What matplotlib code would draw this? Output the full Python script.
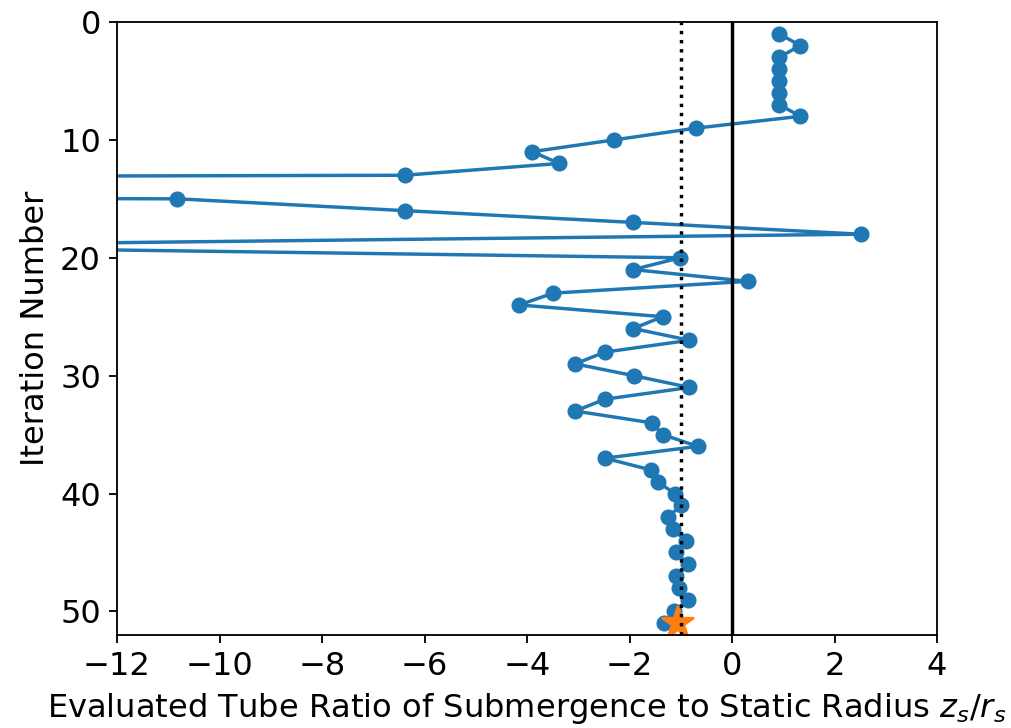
import matplotlib
matplotlib.use("Agg")
import matplotlib.pyplot as plt

# Iteration history
iterations = list(range(1, 52))
ratio = [0.92, 1.33, 0.92, 0.92, 0.92, 0.92, 0.92, 1.33, -0.70, -2.30,
         -3.90, -3.37, -6.39, -100.0, -10.82, -6.39, -1.93, 2.51, -17.7, -1.01,
         -1.93, 0.31, -3.49, -4.15, -1.35, -1.93, -0.83, -2.48, -3.06, -1.92,
         -0.83, -2.48, -3.06, -1.57, -1.35, -0.67, -2.48, -1.58, -1.45, -1.12,
         -0.99, -1.25, -1.16, -0.90, -1.09, -0.86, -1.09, -1.03, -0.86, -1.13,
         -1.32]

# final (converged) value marked with a star
best_iter = 51
best_ratio = -1.06

# reference lines
target_ratio = -1.0
zero_ratio = 0.0

plt.rcParams["font.size"] = 14

dpi = 165
fig = plt.figure(figsize=(1011 / dpi, 728 / dpi), dpi=dpi)
ax = fig.add_axes([117 / 1011, 1 - 635 / 728, 820 / 1011, 613 / 728])

ax.plot(ratio, iterations, "o-", color="C0")
ax.plot(best_ratio, best_iter, "*", color="C1", markersize=15)
ax.axvline(zero_ratio, color="k")
ax.axvline(target_ratio, color="k", linestyle=":")

ax.set_xlim(-12, 4)
ax.set_ylim(52, 0)
ax.set_xticks(range(-12, 5, 2))
ax.set_yticks(range(0, 51, 10))
ax.set_xlabel(r"Evaluated Tube Ratio of Submergence to Static Radius $z_s/r_s$")
ax.set_ylabel("Iteration Number")

fig.savefig("out.png", dpi=dpi)
